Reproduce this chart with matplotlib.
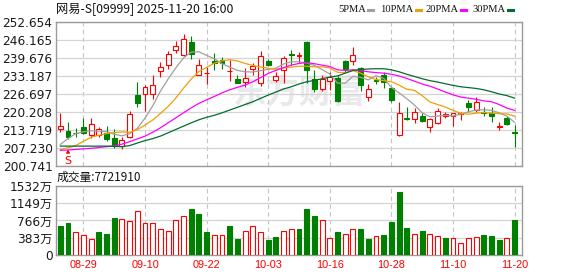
import matplotlib
matplotlib.use('Agg')
import matplotlib.pyplot as plt
from matplotlib.lines import Line2D
import matplotlib.transforms as mtransforms
import numpy as np

# ---- data ----
dates = ['08-26', '08-27', '08-28', '08-29', '09-01', '09-02', '09-03', '09-04', '09-05', '09-08',
         '09-09', '09-10', '09-11', '09-12', '09-15', '09-16', '09-17', '09-18', '09-19', '09-22',
         '09-23', '09-24', '09-25', '09-26', '09-29', '09-30', '10-02', '10-03', '10-06', '10-08',
         '10-09', '10-10', '10-13', '10-14', '10-15', '10-16', '10-17', '10-20', '10-21', '10-22',
         '10-23', '10-24', '10-27', '10-28', '10-30', '10-31', '11-03', '11-04', '11-05', '11-06',
         '11-07', '11-10', '11-11', '11-12', '11-13', '11-14', '11-17', '11-18', '11-19', '11-20']
shown_dates = ['08-29', '09-10', '09-22', '10-03', '10-16', '10-28', '11-10', '11-20']

opens = [214.0, 213.2, 212.7, 214.8, 211.8, 211.7, 212.5, 210.7, 208.0, 211.2,
         226.1, 226.6, 226.6, 235.0, 236.9, 242.4, 240.8, 245.3, 233.6, 234.1,
         238.6, 238.8, 234.8, 232.0, 230.8, 235.5, 230.4, 238.6, 231.6, 235.2,
         241.0, 240.4, 245.4, 232.0, 228.4, 231.4, 232.5, 238.5, 238.6, 235.8,
         225.4, 231.5, 233.4, 228.6, 211.8, 218.0, 217.4, 218.7, 214.6, 216.2,
         218.7, 218.7, 219.4, 223.2, 220.8, 220.0, 219.6, 214.6, 217.8, 212.8]
highs = [219.6, 216.5, 214.2, 217.9, 218.0, 214.8, 215.0, 214.0, 211.2, 220.6,
         230.9, 229.8, 233.3, 238.0, 242.2, 245.8, 248.4, 247.5, 239.1, 236.4,
         241.3, 239.8, 238.8, 233.6, 235.9, 237.8, 242.0, 239.1, 234.5, 240.3,
         242.4, 241.8, 245.6, 235.3, 233.4, 234.6, 233.1, 238.9, 243.6, 236.4,
         230.1, 232.6, 234.6, 229.0, 223.8, 222.0, 221.4, 219.8, 217.8, 221.6,
         220.2, 219.9, 220.2, 224.6, 225.4, 221.8, 222.0, 216.6, 218.7, 215.4]
lows = [213.0, 210.2, 211.2, 212.2, 210.9, 211.2, 209.5, 207.0, 206.8, 210.6,
        222.0, 220.6, 224.9, 232.8, 235.5, 241.2, 240.3, 239.3, 233.4, 230.3,
        235.2, 235.5, 231.3, 230.4, 229.2, 233.5, 229.5, 236.8, 230.8, 230.4,
        237.0, 237.8, 230.5, 227.4, 227.7, 228.0, 223.8, 234.6, 237.0, 227.8,
        224.2, 230.3, 228.6, 223.8, 211.5, 217.2, 216.2, 216.6, 212.8, 215.8,
        218.0, 215.2, 217.2, 220.2, 220.2, 218.7, 216.6, 213.7, 215.5, 207.6]
closes = [215.0, 211.2, 212.6, 212.6, 215.6, 213.8, 210.2, 208.0, 210.0, 219.2,
          223.5, 229.0, 230.0, 236.4, 240.9, 243.9, 246.5, 241.0, 236.9, 234.3,
          237.7, 237.6, 235.0, 230.7, 232.2, 236.8, 240.4, 237.2, 233.0, 239.5,
          240.8, 240.6, 235.3, 228.3, 232.0, 232.6, 224.2, 235.6, 240.6, 229.8,
          228.4, 231.3, 231.0, 224.4, 219.8, 217.7, 220.2, 217.0, 217.4, 220.5,
          219.2, 219.6, 219.7, 221.8, 223.6, 219.7, 218.8, 214.9, 215.8, 212.6]

ma5 = [208.4, 210.5, 212.3, 213.0, 213.3, 213.2, 213.0, 212.1, 211.5, 212.3,
       214.2, 217.9, 222.3, 227.6, 232.0, 236.0, 239.6, 241.7, 241.8, 240.5,
       239.3, 237.5, 236.3, 235.1, 234.6, 234.5, 235.0, 235.5, 235.9, 237.4,
       238.2, 238.2, 237.8, 236.9, 235.4, 233.8, 230.5, 230.5, 233.0, 232.6,
       231.7, 233.2, 232.2, 229.0, 227.0, 224.9, 222.6, 219.8, 218.4, 218.6,
       218.9, 218.7, 219.3, 220.2, 220.8, 220.9, 220.7, 219.8, 218.6, 216.4]
ma10 = [206.6, 207.2, 208.0, 209.5, 211.0, 211.7, 212.3, 212.7, 212.9, 212.8,
        213.7, 215.4, 217.2, 219.6, 222.1, 225.1, 228.7, 232.0, 234.7, 236.2,
        237.7, 238.5, 239.0, 238.5, 237.6, 236.9, 236.3, 235.9, 235.5, 236.0,
        236.3, 236.6, 236.6, 236.4, 236.4, 236.0, 234.4, 234.3, 235.0, 234.1,
        232.8, 231.8, 231.4, 231.0, 229.8, 228.3, 227.9, 226.0, 223.7, 222.8,
        221.9, 220.7, 219.6, 219.3, 219.7, 219.9, 219.7, 219.5, 219.4, 218.6]
ma20 = [206.3, 206.4, 206.6, 206.8, 207.0, 207.3, 207.6, 207.9, 208.5, 209.4,
        210.4, 211.4, 212.8, 214.4, 216.2, 218.0, 219.8, 221.6, 223.2, 224.5,
        225.7, 227.0, 228.1, 229.0, 229.8, 231.0, 232.5, 234.0, 235.1, 236.1,
        237.0, 237.6, 237.9, 237.5, 237.0, 236.5, 235.3, 235.1, 235.3, 235.0,
        234.6, 234.3, 234.1, 233.7, 233.1, 232.2, 231.2, 230.2, 229.4, 228.4,
        227.3, 226.3, 225.5, 225.1, 224.7, 224.1, 223.8, 222.8, 221.5, 220.7]
ma30 = [207.8, 207.8, 207.8, 207.8, 207.8, 207.8, 207.8, 207.7, 207.6, 208.0,
        208.9, 209.8, 210.5, 211.4, 212.6, 213.8, 215.0, 216.2, 217.3, 218.2,
        218.9, 219.8, 220.8, 221.8, 222.8, 223.8, 225.0, 226.2, 227.3, 228.4,
        229.2, 230.2, 231.0, 231.5, 232.1, 232.7, 233.1, 234.1, 235.1, 235.4,
        235.6, 235.7, 235.7, 235.3, 234.6, 233.7, 232.9, 232.1, 231.4, 230.9,
        230.3, 229.7, 229.2, 228.9, 228.6, 228.1, 227.4, 226.6, 226.0, 225.1]

# volume in 万 shares, colour = close vs previous close
volume = [636, 701, 506, 455, 354, 506, 462, 809, 802, 744,
          975, 701, 701, 571, 527, 766, 853, 1026, 896, 506,
          455, 441, 636, 354, 527, 650, 506, 340, 397, 527,
          571, 571, 1026, 853, 766, 376, 506, 477, 585, 585,
          354, 434, 441, 723, 1395, 593, 477, 527, 477, 434,
          376, 369, 260, 390, 412, 441, 419, 332, 390, 772.191]
vol_dir = "ggrrrgggrr" "rrrrrrrggg" "rrggrrrggr" "rgggrrgrrg" "grggggrgrr" "grrrrgggrg"

price_ticks = [200.741, 207.230, 213.719, 220.208, 226.697, 233.187, 239.676, 246.165, 252.654]
vol_ticks = [0, 383, 766, 1149, 1532]
vol_labels = ['0', '383万', '766万', '1149万', '1532万']

title = '网易-S[09999] 2025-11-20 16:00'
vol_title = '成交量:7721910'
ma_names = ['5PMA', '10PMA', '20PMA', '30PMA']

# ---- style ----
RED = '#ff0000'
GREEN = '#008000'
MA_COLORS = ['#a0a0a0', '#f0a000', '#ff00ff', '#006e32']
GRID = '#d4d4d4'
SPINE = '#9a9a9a'
CJK = ['Noto Sans CJK SC', 'DejaVu Sans']

W, H = 578, 276
fig = plt.figure(figsize=(W / 100, H / 100), dpi=100)
ax = fig.add_axes([56 / W, 1 - 165.7 / H, 466 / W, 144 / H])
axv = fig.add_axes([56 / W, 1 - 255.3 / H, 466 / W, 69.8 / H], sharex=ax)

x = np.arange(len(dates))
o = np.array(opens); c = np.array(closes)
up = c >= o
col = np.where(up, RED, GREEN)

# candles
ax.vlines(x, lows, highs, colors=col, lw=0.8, zorder=3)
ax.bar(x, np.maximum(np.abs(c - o), 0.06), 0.64, bottom=np.minimum(o, c),
       facecolor=np.where(up, 'white', GREEN), edgecolor=col, lw=0.8, zorder=4)

for ma, mc in zip([ma5, ma10, ma20, ma30], MA_COLORS):
    ax.plot(x, ma, color=mc, lw=0.9, zorder=5)

# volume
vup = np.array([d == 'r' for d in vol_dir])
axv.bar(x, volume, 0.64, facecolor=np.where(vup, 'white', GREEN),
        edgecolor=np.where(vup, RED, GREEN), lw=0.8, zorder=3)

tick_idx = [dates.index(d) for d in shown_dates]
for a in (ax, axv):
    a.set_axisbelow(True)
    a.set_xticks(tick_idx)
    a.grid(axis='y', color=GRID, lw=0.9)
    a.grid(axis='x', color='#c4c4c4', lw=0.8, ls=(0, (4, 3)))
    for s in a.spines.values():
        s.set_color(SPINE)
        s.set_linewidth(1.0)
    a.tick_params(length=0, labelsize=8.7, pad=2.5, colors='#1a1a1a')

ax.set_xlim(-0.56, 59.96)
ax.set_ylim(price_ticks[0], price_ticks[-1])
ax.set_yticks(price_ticks)
ax.set_yticklabels(['%.3f' % t for t in price_ticks])
ax.tick_params(labelbottom=False)

axv.set_ylim(0, vol_ticks[-1])
axv.set_yticks(vol_ticks)
axv.set_yticklabels(vol_labels, family=['DejaVu Sans', 'Noto Sans CJK SC'])
axv.set_xticklabels(shown_dates, color=RED, family='Liberation Sans', fontsize=7.8)
axv.tick_params(axis='x', pad=3.5)

# watermark
ax.text(0.52, 0.5, '东方财富', transform=ax.transAxes, ha='center', va='center',
        fontsize=24, fontweight='bold', color='#e9e9ec', family=CJK, zorder=0.2)

# sell marker under the second candle
tr = mtransforms.blended_transform_factory(ax.transData, ax.transAxes)
ax.annotate('S', xy=(1, 0.115), xytext=(1, 0.035), xycoords=tr, textcoords=tr,
            ha='center', va='center', color=RED, fontsize=8,
            arrowprops=dict(arrowstyle='-|>', color=RED, lw=0.8, mutation_scale=5,
                            shrinkA=3, shrinkB=0))

fig.text(56 / W, 1 - 9 / H, title, family=CJK, fontsize=8.8, va='center', color='#111111')
fig.text(57 / W, 1 - 177.5 / H, vol_title, family=CJK, fontsize=8.5, va='center', color='#111111')

# legend: name followed by a short colour dash
renderer = fig.canvas.get_renderer()
legend_x = [338, 380, 425, 472]
for name, mc, lx in zip(ma_names, MA_COLORS, legend_x):
    t = fig.text(lx / W, 1 - 9.5 / H, name, family='Liberation Serif', fontsize=7.6,
                 va='center', color='#111111')
    end = t.get_window_extent(renderer).x1 + 2.5
    fig.add_artist(Line2D([end / W, (end + 5) / W], [1 - 9.5 / H] * 2,
                          color=mc, lw=2.2, transform=fig.transFigure))

fig.savefig('out.png', dpi=100, facecolor='white')
